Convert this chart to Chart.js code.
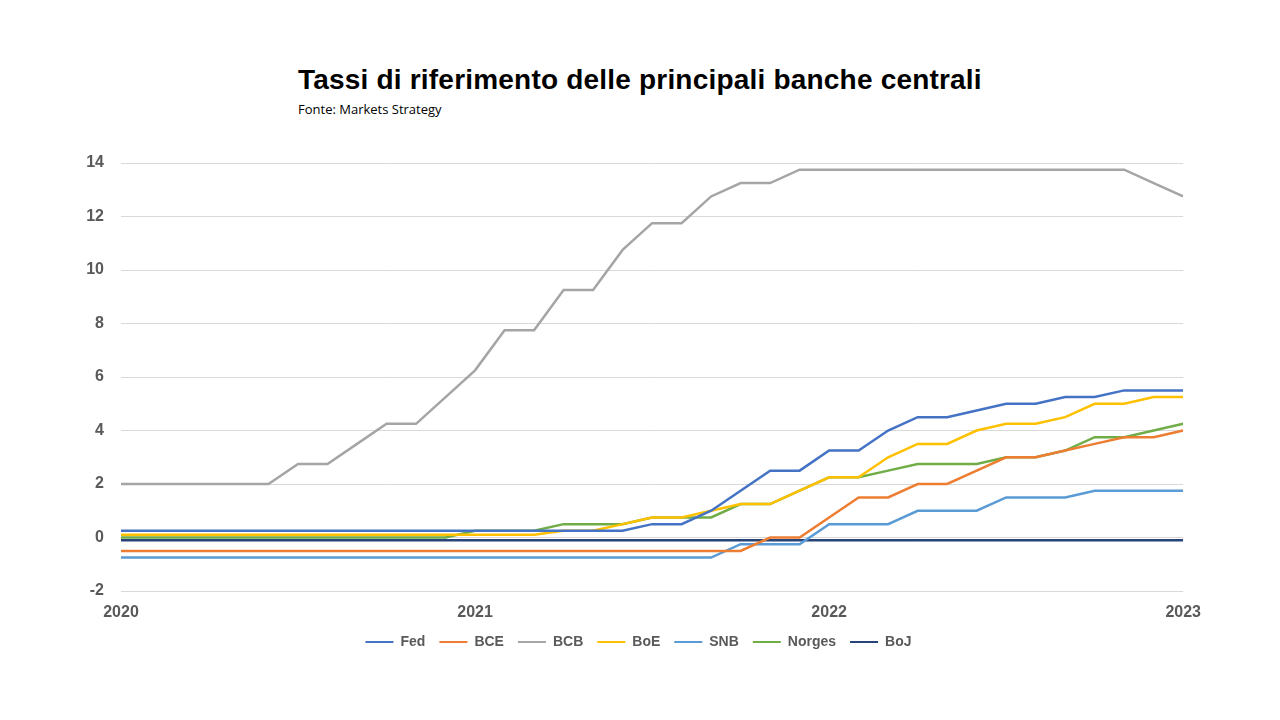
<!DOCTYPE html>
<html>
<head>
<meta charset="utf-8">
<script src="https://cdn.jsdelivr.net/npm/chart.js@4/dist/chart.umd.min.js"></script>
<style>
  body { margin: 0; background: #fff; width: 1280px; height: 720px; overflow: hidden; position: relative; }
  #title { position: absolute; left: 298px; top: 64px; font: bold 28px "Liberation Sans", Arial, sans-serif; color: #000; letter-spacing: 0.2px; }
  #sub { position: absolute; left: 298px; top: 100px; font: 13px "Open Sans", sans-serif; color: #000; }
  #wrap { position: absolute; left: 0; top: 0; width: 1205px; height: 720px; }
</style>
</head>
<body>
<div id="title">Tassi di riferimento delle principali banche centrali</div>
<div id="sub">Fonte: Markets Strategy</div>
<div id="wrap"><canvas id="chart"></canvas></div>
<script>
// monthly observations, Jan 2020 .. Jan 2023
const months = Array.from({ length: 37 }, (_, i) => i);
const yearTicks = { 0: "2020", 12: "2021", 24: "2022", 36: "2023" };

const fed = [0.25,0.25,0.25,0.25,0.25,0.25,0.25,0.25,0.25,0.25,0.25,0.25,0.25,0.25,0.25,0.25,0.25,0.25,
  0.5,0.5,1,1.75,2.5,2.5,3.25,3.25,4,4.5,4.5,4.75,5,5,5.25,5.25,5.5,5.5,5.5];
const bce = [-0.5,-0.5,-0.5,-0.5,-0.5,-0.5,-0.5,-0.5,-0.5,-0.5,-0.5,-0.5,-0.5,-0.5,-0.5,-0.5,-0.5,-0.5,-0.5,-0.5,-0.5,-0.5,
  0,0,0.75,1.5,1.5,2,2,2.5,3,3,3.25,3.5,3.75,3.75,4];
const bcb = [2,2,2,2,2,2,2.75,2.75,3.5,4.25,4.25,5.25,6.25,7.75,7.75,9.25,9.25,10.75,11.75,11.75,12.75,13.25,13.25,
  13.75,13.75,13.75,13.75,13.75,13.75,13.75,13.75,13.75,13.75,13.75,13.75,13.25,12.75];
const boe = [0.1,0.1,0.1,0.1,0.1,0.1,0.1,0.1,0.1,0.1,0.1,0.1,0.1,0.1,0.1,
  0.25,0.25,0.5,0.75,0.75,1,1.25,1.25,1.75,2.25,2.25,3,3.5,3.5,4,4.25,4.25,4.5,5,5,5.25,5.25];
const snb = [-0.75,-0.75,-0.75,-0.75,-0.75,-0.75,-0.75,-0.75,-0.75,-0.75,-0.75,-0.75,-0.75,-0.75,-0.75,-0.75,-0.75,-0.75,-0.75,-0.75,-0.75,
  -0.25,-0.25,-0.25,0.5,0.5,0.5,1,1,1,1.5,1.5,1.5,1.75,1.75,1.75,1.75];
const norges = [0,0,0,0,0,0,0,0,0,0,0,0,
  0.25,0.25,0.25,0.5,0.5,0.5,0.75,0.75,0.75,1.25,1.25,1.75,2.25,2.25,2.5,2.75,2.75,2.75,3,3,3.25,3.75,3.75,4,4.25];
const boj = Array(37).fill(-0.1);

const series = [
  ["Fed", fed, "#4472c4"],
  ["BCE", bce, "#ed7d31"],
  ["BCB", bcb, "#a5a5a5"],
  ["BoE", boe, "#ffc000"],
  ["SNB", snb, "#5b9bd5"],
  ["Norges", norges, "#70ad47"],
  ["BoJ", boj, "#264478"],
];

const tickFont = { family: "'Liberation Sans', Arial, sans-serif", size: 16, weight: "bold" };

new Chart(document.getElementById("chart"), {
  type: "line",
  data: {
    datasets: series.map(([label, vals, color]) => ({
      label,
      data: vals.map((v, i) => ({ x: months[i], y: v })),
      borderColor: color,
      backgroundColor: color,
      borderWidth: 2.5,
      pointRadius: 0,
      tension: 0,
    })),
  },
  options: {
    responsive: true,
    maintainAspectRatio: false,
    animation: false,
    layout: { padding: { left: 81, right: 9, top: 163, bottom: 61 } },
    scales: {
      x: {
        type: "linear",
        min: 0,
        max: 36,
        grid: { display: false },
        border: { display: false },
        afterBuildTicks: (s) => { s.ticks = [0, 12, 24, 36].map((v) => ({ value: v })); },
        ticks: { font: tickFont, color: "#595959", maxRotation: 0, padding: 4,
          callback: (v) => yearTicks[v] || "" },
        afterFit: (s) => { s.height = 30; },
      },
      y: {
        min: -2,
        max: 14,
        grid: { color: "#d9d9d9", drawTicks: false },
        border: { display: false },
        ticks: { stepSize: 2, font: tickFont, color: "#595959", padding: 17 },
        afterFit: (s) => { s.width = 40; },
      },
    },
    plugins: {
      legend: {
        position: "bottom",
        labels: {
          font: { family: "'Liberation Sans', Arial, sans-serif", size: 14, weight: "bold" },
          color: "#595959",
          boxWidth: 28,
          boxHeight: 2,
          padding: 14,
          generateLabels: (chart) => chart.data.datasets.map((d, i) => ({
            text: d.label, fillStyle: d.borderColor, strokeStyle: d.borderColor,
            fontColor: "#595959", lineWidth: 0, datasetIndex: i,
          })),
        },
      },
      tooltip: { enabled: false },
    },
  },
});
</script>
</body>
</html>
